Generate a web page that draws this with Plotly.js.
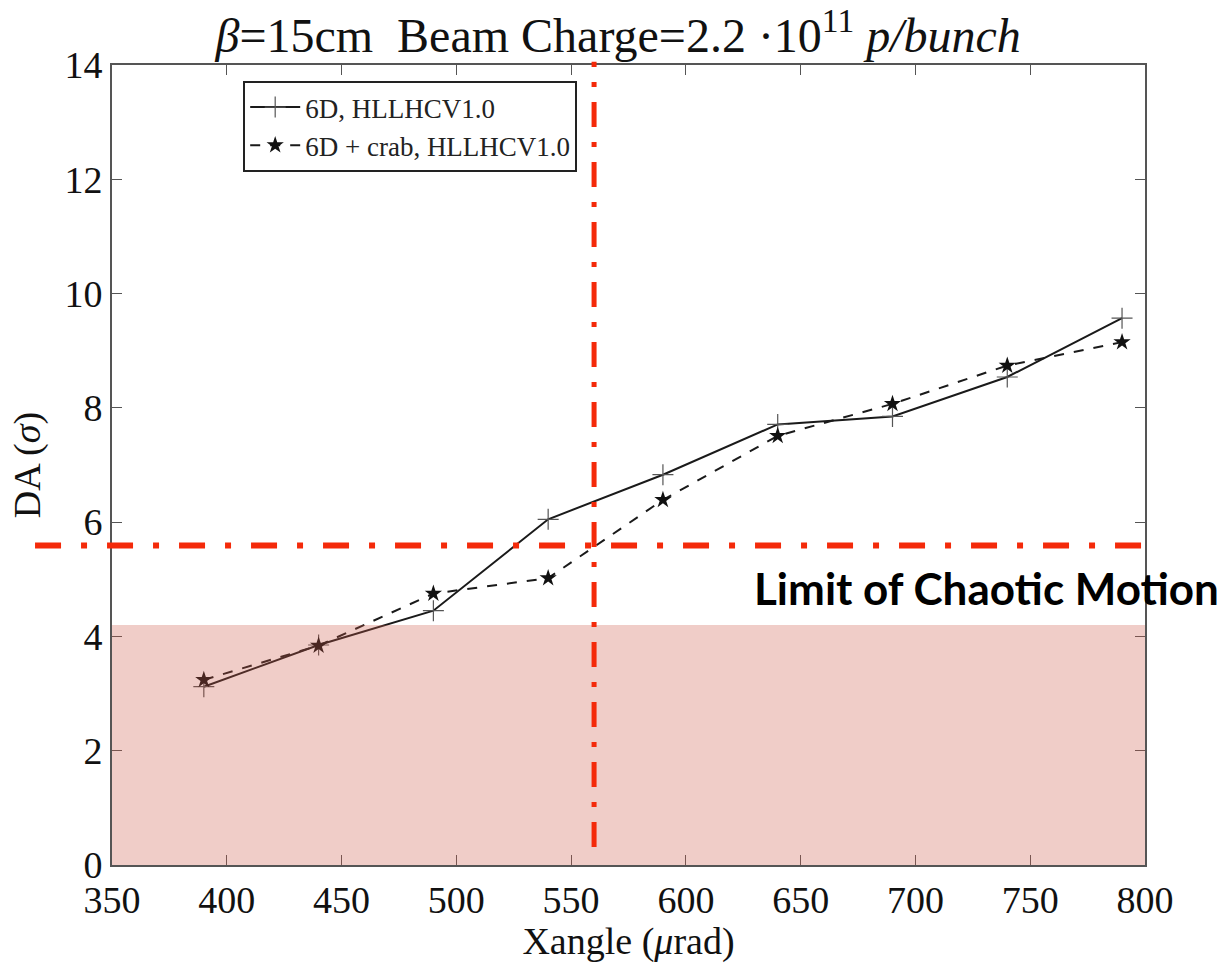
<!DOCTYPE html>
<html>
<head>
<meta charset="utf-8">
<script src="https://cdn.plot.ly/plotly-3.0.1.min.js"></script>
<style>html,body{margin:0;padding:0;background:#fff;}#chart{width:1222px;height:963px;}</style>
</head>
<body>
<div id="chart"></div>
<script>
// Data
const xangle = [390, 440, 490, 540, 590, 640, 690, 740, 790];
const da6D = [3.12, 3.85, 4.45, 6.05, 6.83, 7.71, 7.85, 8.54, 9.57];
const da6DCrab = [3.24, 3.84, 4.75, 5.02, 6.39, 7.51, 8.07, 8.74, 9.15];
const seriesNames = ['6D, HLLHCV1.0', '6D + crab, HLLHCV1.0'];
const xTicks = [350, 400, 450, 500, 550, 600, 650, 700, 750, 800];
const yTicks = [0, 2, 4, 6, 8, 10, 12, 14];
const shadedTop = 4.2;        // DA below which region is shaded
const chaosLimit = 5.59;      // horizontal limit line
const xangleLimit = 560;      // vertical limit line
const limitLabel = 'Limit of Chaotic Motion';

const serif = 'Liberation Serif, Times New Roman, serif';

const traces = [
  {
    x: xangle, y: da6D, name: seriesNames[0], type: 'scatter', mode: 'lines+markers',
    line: {color: '#1a1a1a', width: 2, dash: 'solid'},
    marker: {symbol: 'cross-thin', size: 15, line: {color: '#555', width: 1.2}}
  },
  {
    x: xangle, y: da6DCrab, name: seriesNames[1], type: 'scatter', mode: 'lines+markers',
    line: {color: '#1a1a1a', width: 2, dash: '10px,10px'},
    marker: {symbol: 'star', size: 13, color: '#111'}
  }
];

const layout = {
  width: 1222, height: 963,
  margin: {l: 112, r: 77, t: 65, b: 98},
  paper_bgcolor: '#fff', plot_bgcolor: '#fff',
  showlegend: true,
  title: {
    text: '<i>β</i>=15cm  Beam Charge=2.2 ·10<sup>11</sup> <i>p/bunch</i>',
    font: {family: serif, size: 48, color: '#111'},
    x: 0.49, xref: 'paper', xanchor: 'center',
    y: 0.963, yref: 'container', yanchor: 'middle'
  },
  xaxis: {
    range: [350, 800], tickvals: xTicks, ticktext: xTicks.map(String),
    ticks: 'inside', ticklen: 10, tickwidth: 1, tickcolor: '#555',
    showline: true, linecolor: '#555', linewidth: 2, mirror: 'ticks',
    showgrid: false, zeroline: false,
    tickfont: {family: serif, size: 38, color: '#111'},
    title: {text: 'Xangle (<i>μ</i>rad)', font: {family: serif, size: 38, color: '#111'}, standoff: 4}
  },
  yaxis: {
    range: [0, 14], tickvals: yTicks, ticktext: yTicks.map(String),
    ticks: 'inside', ticklen: 10, tickwidth: 1, tickcolor: '#555',
    showline: true, linecolor: '#555', linewidth: 2, mirror: 'ticks',
    showgrid: false, zeroline: false,
    tickfont: {family: serif, size: 38, color: '#111'},
    title: {text: 'DA (<i>σ</i>)', font: {family: serif, size: 38, color: '#111'}, standoff: 12}
  },
  legend: {
    x: 0.127, y: 0.98, xanchor: 'left', yanchor: 'top',
    bgcolor: '#fff', bordercolor: '#222', borderwidth: 2,
    font: {family: serif, size: 27, color: '#222'},
    itemwidth: 50, tracegroupgap: 0
  },
  shapes: [
    {
      type: 'rect', xref: 'paper', yref: 'y', x0: 0, x1: 1, y0: 0, y1: shadedTop,
      fillcolor: 'rgb(205,88,72)', opacity: 0.3, line: {width: 0}, layer: 'above'
    },
    {
      type: 'line', xref: 'paper', yref: 'y', x0: -0.0745, x1: 1.0077, y0: chaosLimit, y1: chaosLimit,
      line: {color: '#f42a0a', width: 6, dash: '26px,20px,6px,20px'}, layer: 'above'
    },
    {
      type: 'line', xref: 'x', yref: 'paper', x0: xangleLimit, x1: xangleLimit, y0: 0.0225, y1: 1.004,
      line: {color: '#f42a0a', width: 5, dash: '25px,15px,5px,15px'}, layer: 'above'
    }
  ],
  annotations: [
    {
      text: '<b>' + limitLabel + '</b>', xref: 'paper', yref: 'paper',
      x: 0.6196, y: 0.346, xanchor: 'left', yanchor: 'middle', showarrow: false,
      font: {family: 'Lato, Open Sans, sans-serif', size: 44, color: '#000'}
    }
  ]
};

Plotly.newPlot('chart', traces, layout, {displayModeBar: false, staticPlot: true});
</script>
</body>
</html>
